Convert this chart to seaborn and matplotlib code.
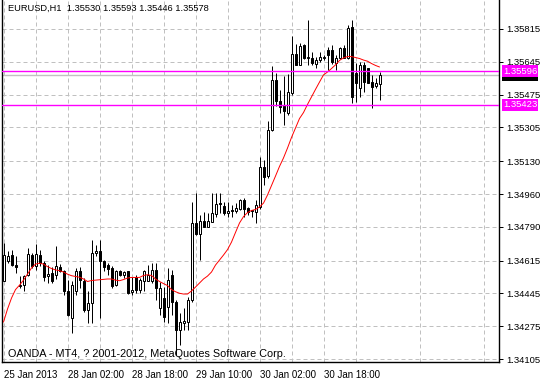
import numpy as np
import pandas as pd
import matplotlib
matplotlib.use("Agg")
import matplotlib.pyplot as plt
import matplotlib.transforms as mtransforms
from matplotlib.patches import Rectangle
import seaborn as sns

# ---------------- data ----------------
opens = [1.34511, 1.34615, 1.34643, 1.34591, 1.34482, 1.34490, 1.34539, 1.34646, 1.34586, 1.34646,
         1.34603, 1.34534, 1.34551, 1.34542, 1.34580, 1.34560, 1.34456, 1.34318, 1.34456, 1.34560,
         1.34508, 1.34361, 1.34395, 1.34653, 1.34666, 1.34615, 1.34594, 1.34577, 1.34490, 1.34560,
         1.34539, 1.34560, 1.34451, 1.34529, 1.34464, 1.34508, 1.34511, 1.34508, 1.34566, 1.34370,
         1.34421, 1.34375, 1.34541, 1.34401, 1.34256, 1.34292, 1.34297, 1.34411, 1.34808, 1.34751,
         1.34822, 1.34791, 1.34817, 1.34855, 1.34912, 1.34898, 1.34860, 1.34877, 1.34872, 1.34881,
         1.34929, 1.34889, 1.34877, 1.34868, 1.34893, 1.35102, 1.35051, 1.35293, 1.35552, 1.35440,
         1.35414, 1.35380, 1.35483, 1.35685, 1.35630, 1.35732, 1.35663, 1.35663, 1.35632, 1.35654,
         1.35663, 1.35706, 1.35706, 1.35637, 1.35663, 1.35718, 1.35663, 1.35827, 1.35585, 1.35508,
         1.35628, 1.35611, 1.35542, 1.35521, 1.35530]
highs = [1.34706, 1.34663, 1.34672, 1.34637, 1.34534, 1.34542, 1.34680, 1.34654, 1.34701, 1.34672,
         1.34611, 1.34594, 1.34580, 1.34689, 1.34598, 1.34568, 1.34516, 1.34508, 1.34577, 1.34580,
         1.34525, 1.34456, 1.34723, 1.34696, 1.34723, 1.34620, 1.34603, 1.34586, 1.34568, 1.34568,
         1.34560, 1.34563, 1.34529, 1.34542, 1.34525, 1.34568, 1.34594, 1.34603, 1.34603, 1.34504,
         1.34478, 1.34577, 1.34566, 1.34411, 1.34344, 1.34370, 1.34427, 1.34920, 1.34964, 1.34851,
         1.34868, 1.34860, 1.34964, 1.34964, 1.34964, 1.34920, 1.34920, 1.34903, 1.34912, 1.34932,
         1.34938, 1.34894, 1.34877, 1.34929, 1.35152, 1.35136, 1.35337, 1.35622, 1.35587, 1.35500,
         1.35570, 1.35582, 1.35777, 1.35737, 1.35742, 1.35736, 1.35861, 1.35697, 1.35671, 1.35697,
         1.35680, 1.35723, 1.35732, 1.35680, 1.35723, 1.35732, 1.35835, 1.35861, 1.35637, 1.35645,
         1.35645, 1.35611, 1.35576, 1.35559, 1.35593]
lows = [1.34509, 1.34603, 1.34586, 1.34551, 1.34473, 1.34456, 1.34534, 1.34577, 1.34568, 1.34586,
        1.34508, 1.34499, 1.34499, 1.34521, 1.34556, 1.34439, 1.34327, 1.34240, 1.34439, 1.34473,
        1.34349, 1.34292, 1.34292, 1.34639, 1.34318, 1.34560, 1.34542, 1.34473, 1.34482, 1.34534,
        1.34525, 1.34442, 1.34439, 1.34447, 1.34447, 1.34456, 1.34508, 1.34499, 1.34411, 1.34333,
        1.34297, 1.34292, 1.34333, 1.34126, 1.34178, 1.34256, 1.34256, 1.34402, 1.34748, 1.34618,
        1.34788, 1.34788, 1.34817, 1.34843, 1.34860, 1.34851, 1.34843, 1.34843, 1.34860, 1.34877,
        1.34843, 1.34851, 1.34843, 1.34808, 1.34882, 1.35007, 1.35043, 1.35286, 1.35416, 1.35380,
        1.35319, 1.35371, 1.35474, 1.35627, 1.35627, 1.35659, 1.35628, 1.35628, 1.35611, 1.35645,
        1.35654, 1.35602, 1.35632, 1.35602, 1.35659, 1.35663, 1.35659, 1.35430, 1.35438, 1.35464,
        1.35490, 1.35534, 1.35404, 1.35508, 1.35446]
closes = [1.34646, 1.34637, 1.34591, 1.34580, 1.34490, 1.34534, 1.34649, 1.34586, 1.34649, 1.34603,
          1.34529, 1.34546, 1.34508, 1.34586, 1.34560, 1.34456, 1.34335, 1.34490, 1.34560, 1.34516,
          1.34361, 1.34395, 1.34654, 1.34666, 1.34611, 1.34580, 1.34573, 1.34482, 1.34560, 1.34539,
          1.34556, 1.34447, 1.34464, 1.34464, 1.34516, 1.34560, 1.34542, 1.34568, 1.34473, 1.34473,
          1.34323, 1.34515, 1.34401, 1.34256, 1.34297, 1.34302, 1.34411, 1.34808, 1.34751, 1.34822,
          1.34791, 1.34820, 1.34862, 1.34907, 1.34907, 1.34860, 1.34872, 1.34870, 1.34886, 1.34929,
          1.34881, 1.34868, 1.34872, 1.34903, 1.35102, 1.35046, 1.35293, 1.35552, 1.35440, 1.35409,
          1.35388, 1.35488, 1.35685, 1.35630, 1.35725, 1.35663, 1.35671, 1.35637, 1.35654, 1.35671,
          1.35671, 1.35680, 1.35645, 1.35663, 1.35715, 1.35663, 1.35818, 1.35464, 1.35534, 1.35628,
          1.35542, 1.35534, 1.35516, 1.35534, 1.35578]
ma_values = [1.34297, 1.34364, 1.34421, 1.34465, 1.34488, 1.34514, 1.34545, 1.34577, 1.34597, 1.34602,
             1.34597, 1.34584, 1.34574, 1.34567, 1.34563, 1.34556, 1.34545, 1.34537, 1.34533, 1.34529,
             1.34520, 1.34507, 1.34512, 1.34514, 1.34516, 1.34518, 1.34520, 1.34520, 1.34514, 1.34511,
             1.34517, 1.34525, 1.34528, 1.34528, 1.34528, 1.34538, 1.34542, 1.34538, 1.34520, 1.34507,
             1.34496, 1.34486, 1.34465, 1.34454, 1.34446, 1.34442, 1.34442, 1.34458, 1.34478, 1.34499,
             1.34520, 1.34535, 1.34556, 1.34592, 1.34618, 1.34644, 1.34672, 1.34711, 1.34761, 1.34810,
             1.34843, 1.34864, 1.34875, 1.34880, 1.34893, 1.34913, 1.34955, 1.35004, 1.35053, 1.35103,
             1.35147, 1.35198, 1.35253, 1.35302, 1.35351, 1.35382, 1.35424, 1.35463, 1.35502, 1.35540,
             1.35577, 1.35592, 1.35610, 1.35629, 1.35652, 1.35665, 1.35672, 1.35672, 1.35667, 1.35662,
             1.35654, 1.35648, 1.35636, 1.35626, 1.35618]

price_ticks = [1.34105, 1.34275, 1.34445, 1.34615, 1.34790, 1.34960, 1.35130,
               1.35305, 1.35475, 1.35645, 1.35815]
time_labels = ["25 Jan 2013", "28 Jan 02:00", "28 Jan 18:00", "29 Jan 10:00",
               "30 Jan 02:00", "30 Jan 18:00"]
time_label_bars = [0, 16, 32, 48, 64, 80]
level_upper = 1.35596
level_lower = 1.35423
bid_price = 1.35578
header = "EURUSD,H1  1.35530 1.35593 1.35446 1.35578"
footer = "OANDA - MT4, ? 2001-2012, MetaQuotes Software Corp."

# ---------------- figure ----------------
sns.set_style("white")
plt.rcParams['font.family'] = ['Liberation Sans', 'DejaVu Sans']

W, H = 540, 379
fig = plt.figure(figsize=(W / 100, H / 100), dpi=100)
fig.patch.set_facecolor("white")
ax = fig.add_axes([2 / W, (H - 362) / H, 497 / W, 362 / H])

n = len(opens)
df = pd.DataFrame({"bar": np.arange(n), "open": opens, "high": highs,
                   "low": lows, "close": closes, "ma": ma_values})

lw_px = 0.72  # one pixel
# wicks
ax.vlines(df["bar"], df["low"], df["high"], color="black", linewidth=lw_px, zorder=3)
# bodies
bull = df["close"] >= df["open"]
bottoms = np.minimum(df["open"], df["close"])
heights = np.abs(df["close"] - df["open"])
ax.bar(df["bar"], heights, bottom=bottoms, width=0.5,
       color=np.where(bull, "white", "black"), edgecolor="black",
       linewidth=lw_px, zorder=4)

# moving average
sns.lineplot(data=df, x="bar", y="ma", color="#ff0000", linewidth=0.7, ax=ax, zorder=5)

# horizontal levels
ax.axhline(bid_price, color="#c0c0c0", linewidth=1.0, zorder=2)
ax.axhline(level_upper, color="#ff00ff", linewidth=1.0, zorder=6)
ax.axhline(level_lower, color="#ff00ff", linewidth=1.0, zorder=6)

# limits
ax.set_xlim(-0.375, 123.875)
ax.set_ylim(1.34090, 1.35965)

# grid / ticks
ax.set_yticks(price_ticks)
ax.set_yticklabels([f"{v:.5f}" for v in price_ticks])
ax.yaxis.tick_right()
ax.set_xticks(time_label_bars)
ax.set_xticklabels(time_labels, ha="left")
ax.set_xticks(np.arange(8, 124, 16), minor=True)
ax.tick_params(axis="y", which="major", length=3, width=0.72, color="black",
               labelsize=6.8, pad=2, labelcolor="black")
ax.tick_params(axis="x", which="major", length=4, width=0.72, color="black",
               labelsize=7, pad=2, labelcolor="black")
ax.tick_params(axis="x", which="minor", length=0)
grid_kw = dict(color="#c0c0c0", linewidth=0.72, linestyle=(0, (4, 3)))
ax.grid(True, which="major", axis="both", **grid_kw)
ax.grid(True, which="minor", axis="x", **grid_kw)
ax.set_axisbelow(True)
for lab in ax.get_xticklabels():
    lab.set_horizontalalignment("left")
ax.set_xlabel("")
ax.set_ylabel("")

for side in ["left", "bottom", "right"]:
    ax.spines[side].set_visible(True)
    ax.spines[side].set_color("black")
    ax.spines[side].set_linewidth(1.0)
ax.spines["top"].set_visible(False)

# price labels on the right scale
trans = mtransforms.blended_transform_factory(ax.transAxes, ax.transData)
box_x0, box_w = 1.006, 0.0725
box_h = 0.00062
# bid label (mostly hidden behind the upper level label)
ax.add_patch(Rectangle((box_x0, bid_price - box_h / 2), box_w, box_h, transform=trans,
                       facecolor="black", edgecolor="none", clip_on=False, zorder=7))
for lvl in [level_upper, level_lower]:
    ax.add_patch(Rectangle((box_x0, lvl - box_h / 2), box_w, box_h, transform=trans,
                           facecolor="#ff00ff", edgecolor="none", clip_on=False, zorder=8))
    ax.text(box_x0 + box_w / 2, lvl, f"{lvl:.5f}", transform=trans, color="white",
            fontsize=6.8, va="center", ha="center", clip_on=False, zorder=9)

# header and footer text
ax.text(6 / 497, 1 - 8 / 362, header, transform=ax.transAxes, fontsize=6.7,
        va="center", ha="left", color="black", zorder=9)
ax.text(6 / 497, 8 / 362, footer, transform=ax.transAxes, fontsize=7.8,
        va="center", ha="left", color="black", zorder=9)

fig.savefig("out.png", dpi=100, facecolor="white")
